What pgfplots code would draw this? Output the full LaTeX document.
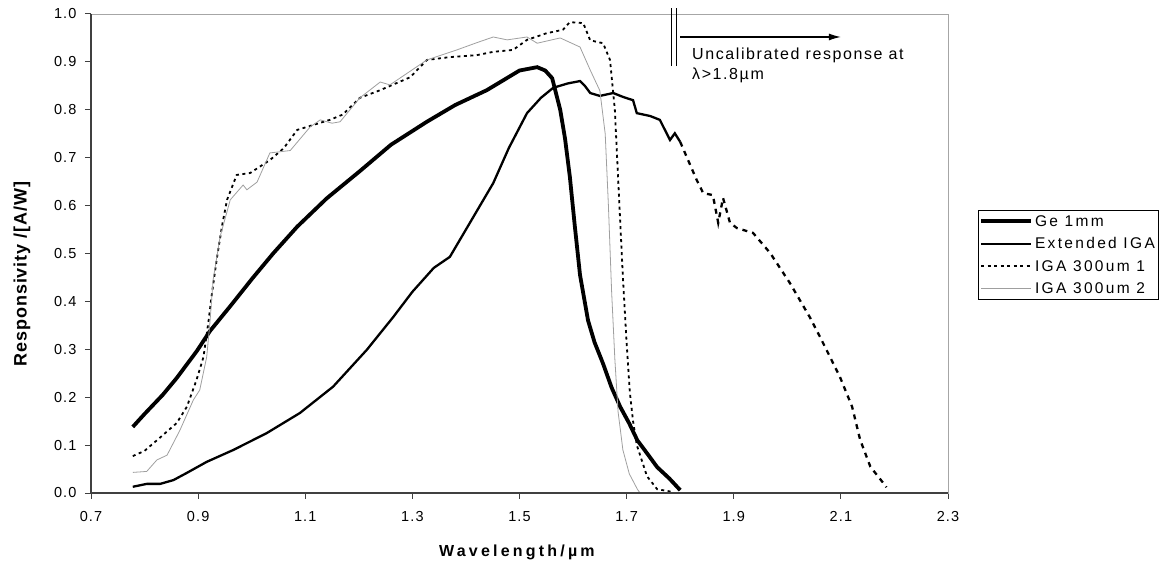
\documentclass[border=0pt]{standalone}
\usepackage{fontspec}
\setmainfont{Liberation Sans}
\newfontfamily\tickfont[LetterSpace=8]{Liberation Sans}
\newfontfamily\legfont[LetterSpace=15]{Liberation Sans}
\newfontfamily\annfont[LetterSpace=10]{Liberation Sans}
\newfontfamily\xlabfont[LetterSpace=20]{Liberation Sans}
\newfontfamily\ylabfont[LetterSpace=5]{Liberation Sans}
\usepackage{pgfplots}
\pgfplotsset{compat=1.18}
\usetikzlibrary{arrows.meta}

\begin{document}
\begin{tikzpicture}
\path[use as bounding box] (0bp,0bp) rectangle (1165bp,568bp);
\begin{axis}[
  at={(91bp,75bp)}, anchor=south west,
  scale only axis, width=857bp, height=479bp,
  xmin=0.7, xmax=2.3, ymin=0, ymax=1,
  xtick={0.7,0.9,1.1,1.3,1.5,1.7,1.9,2.1,2.3},
  ytick={0,0.1,0.2,0.3,0.4,0.5,0.6,0.7,0.8,0.9,1.0},
  tick align=outside, major tick length=6bp,
  xtick pos=bottom, ytick pos=left,
  major tick style={black!75, line width=1bp},
  axis line style={draw=gray!70, line width=0.7bp},
  /pgf/number format/assume math mode=true,
  /pgf/number format/.cd, fixed, fixed zerofill, precision=1, /pgfplots/.cd,
  tick label style={font=\tickfont\fontsize{14.5bp}{17bp}\selectfont},
  yticklabel style={xshift=-5bp},
  xticklabel style={yshift=-9bp},
  xlabel={Wavelength/µm},
  ylabel={Responsivity /[A/W]},
  xlabel style={at={(axis description cs:0.497,-0.125)}, anchor=center, font=\xlabfont\bfseries\fontsize{16bp}{19bp}\selectfont},
  ylabel style={at={(axis description cs:-0.0805,0.457)}, anchor=center, font=\ylabfont\bfseries\fontsize{18bp}{21bp}\selectfont},
  clip=false,
  legend style={at={(axis description cs:1.035,0.59)}, anchor=north west, draw=black, line width=0.6bp,
    font=\legfont\fontsize{15.5bp}{18bp}\selectfont, inner xsep=1bp, inner ysep=2.5bp, row sep=6bp, cells={anchor=west}},
  legend image code/.code={\draw[#1] (0bp,0bp) -- (50bp,0bp);},
]
% Ge 1mm
\addplot[black, line width=3.8bp] coordinates {
(0.778,0.138) (0.80,0.165) (0.834,0.205) (0.86,0.24) (0.898,0.297) (0.922,0.338) (0.96,0.39) (1.002,0.449) (1.04,0.50) (1.085,0.556) (1.14,0.615) (1.202,0.672) (1.26,0.727) (1.327,0.775) (1.38,0.81) (1.439,0.841) (1.50,0.882) (1.533,0.889) (1.548,0.882) (1.561,0.866) (1.576,0.80) (1.585,0.74) (1.594,0.66) (1.603,0.56) (1.613,0.455) (1.628,0.36) (1.64,0.315) (1.656,0.27) (1.672,0.22) (1.688,0.18) (1.705,0.145) (1.72,0.11) (1.74,0.08) (1.757,0.054) (1.78,0.03) (1.80,0.006)
};
\addlegendentry{Ge 1mm}
% Extended IGA (calibrated part)
\addplot[black, line width=2.3bp] coordinates {
(0.778,0.013) (0.804,0.019) (0.829,0.019) (0.854,0.027) (0.879,0.042) (0.916,0.065) (0.966,0.09) (1.028,0.125) (1.09,0.167) (1.152,0.222) (1.215,0.299) (1.264,0.367) (1.30,0.42) (1.34,0.47) (1.370,0.493) (1.40,0.55) (1.451,0.647) (1.48,0.72) (1.514,0.793) (1.54,0.825) (1.563,0.846) (1.59,0.855) (1.613,0.860) (1.622,0.85) (1.632,0.835) (1.650,0.829) (1.675,0.835) (1.693,0.827) (1.712,0.820) (1.719,0.793) (1.744,0.787) (1.762,0.779) (1.781,0.737) (1.79,0.751) (1.80,0.733)
};
\addlegendentry{Extended IGA}
% IGA 300um 1
\addplot[black, line width=1.8bp, dash pattern=on 3bp off 3.5bp] coordinates {
(0.778,0.077) (0.80,0.088) (0.823,0.11) (0.86,0.146) (0.879,0.18) (0.897,0.236) (0.91,0.284) (0.919,0.355) (0.925,0.41) (0.935,0.49) (0.945,0.56) (0.954,0.612) (0.972,0.664) (0.997,0.668) (1.034,0.695) (1.06,0.72) (1.085,0.758) (1.146,0.779) (1.17,0.79) (1.202,0.825) (1.240,0.841) (1.296,0.868) (1.327,0.904) (1.370,0.910) (1.42,0.914) (1.451,0.921) (1.488,0.925) (1.514,0.946) (1.551,0.960) (1.581,0.967) (1.594,0.983) (1.619,0.981) (1.632,0.945) (1.656,0.939) (1.669,0.904) (1.678,0.80) (1.684,0.66) (1.693,0.451) (1.700,0.313) (1.706,0.21) (1.712,0.15) (1.719,0.10) (1.738,0.035) (1.757,0.008) (1.787,0.002)
};
\addlegendentry{IGA 300um 1}
% IGA 300um 2
\addplot[gray!75, line width=0.8bp] coordinates {
(0.778,0.043) (0.804,0.045) (0.823,0.069) (0.842,0.079) (0.866,0.131) (0.891,0.194) (0.903,0.215) (0.916,0.284) (0.922,0.355) (0.928,0.445) (0.941,0.535) (0.960,0.612) (0.984,0.643) (0.991,0.633) (1.010,0.649) (1.034,0.710) (1.050,0.712) (1.072,0.715) (1.109,0.764) (1.128,0.779) (1.15,0.772) (1.165,0.775) (1.202,0.825) (1.240,0.858) (1.258,0.852) (1.327,0.904) (1.383,0.925) (1.42,0.94) (1.451,0.952) (1.477,0.946) (1.514,0.952) (1.533,0.939) (1.576,0.950) (1.613,0.931) (1.632,0.883) (1.650,0.84) (1.660,0.75) (1.666,0.60) (1.672,0.42) (1.678,0.28) (1.684,0.17) (1.693,0.09) (1.705,0.04) (1.72,0.008) (1.725,0.0)
};
\addlegendentry{IGA 300um 2}
% Extended IGA (uncalibrated part)
\addplot[black, line width=2.3bp, dash pattern=on 5bp off 5bp, forget plot] coordinates {
(1.80,0.733) (1.831,0.653) (1.843,0.626) (1.861,0.622) (1.871,0.564) (1.880,0.616) (1.893,0.564) (1.906,0.553) (1.936,0.543) (1.968,0.501) (2.005,0.438) (2.042,0.367) (2.061,0.326) (2.098,0.243) (2.121,0.180) (2.136,0.111) (2.155,0.055) (2.179,0.021) (2.185,0.012)
};
% darker left and bottom axis lines
\draw[black!75, line width=1.2bp] (rel axis cs:0,1) -- (rel axis cs:0,0) -- (rel axis cs:1,0);
% annotation
\draw[black, line width=1bp] (axis cs:1.783,0.891) -- (axis cs:1.783,1.0125);
\draw[black, line width=1bp] (axis cs:1.794,0.891) -- (axis cs:1.794,1.0125);
\draw[line width=1.2bp, -{Latex[length=12bp,width=7bp]}] (axis cs:1.80,0.952) -- (axis cs:2.10,0.952);
\node[anchor=north west, align=left, inner sep=0pt, font=\annfont\fontsize{16bp}{20bp}\selectfont] at (axis cs:1.822,0.929) {Uncalibrated response at\\λ>1.8µm};
\end{axis}
\end{tikzpicture}
\end{document}
